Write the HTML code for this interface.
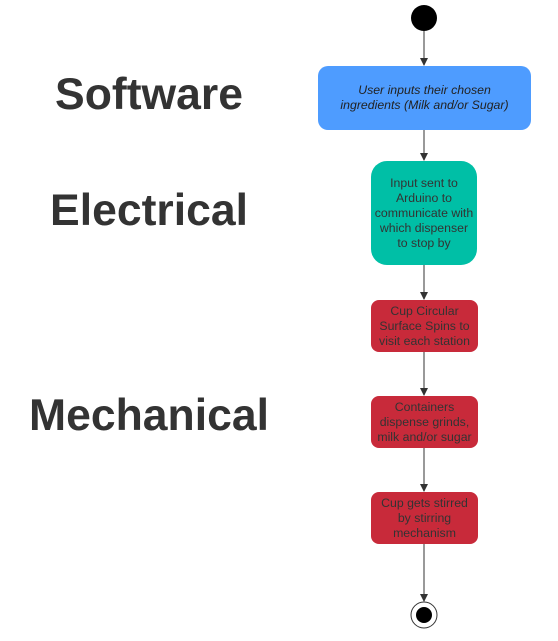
<!DOCTYPE html>
<html><head><style>
body{margin:0;width:558px;height:641px;background:#fff;position:relative;overflow:hidden;font-family:"Liberation Sans",sans-serif}
.l{position:absolute;font-weight:bold;font-size:44.5px;color:#333;text-align:center;width:300px;line-height:50px}
.b{position:absolute;display:flex;align-items:center;justify-content:center;text-align:center;font-size:12.3px;line-height:15px;color:#333;box-sizing:border-box}
</style></head><body>
<div class="l" style="left:-1px;top:70px">Software</div>
<div class="l" style="left:-1px;top:186px">Electrical</div>
<div class="l" style="left:-1px;top:391px">Mechanical</div>
<svg width="558" height="641" style="position:absolute;left:0;top:0">
<defs><marker id="a" markerWidth="8" markerHeight="8" refX="7" refY="4" orient="auto" markerUnits="userSpaceOnUse"><path d="M0,0L8,4L0,8z" fill="#333"/></marker></defs>
<circle cx="424" cy="18" r="13" fill="#000"/>
<g stroke="#555" stroke-width="1.2" marker-end="url(#a)">
<line x1="424" y1="31" x2="424" y2="65"/>
<line x1="424" y1="130" x2="424" y2="160"/>
<line x1="424" y1="265" x2="424" y2="299"/>
<line x1="424" y1="352" x2="424" y2="395"/>
<line x1="424" y1="448" x2="424" y2="491"/>
<line x1="424" y1="544" x2="424" y2="601"/>
</g>
<circle cx="424" cy="615" r="13" fill="#fff" stroke="#333" stroke-width="1"/>
<circle cx="424" cy="615" r="8" fill="#000"/>
</svg>
<div class="b" style="left:318px;top:66px;width:213px;height:64px;background:#4e9cff;border-radius:10px;font-style:italic;color:#222">User inputs their chosen<br>ingredients (Milk and/or Sugar)</div>
<div class="b" style="left:371px;top:161px;width:106px;height:104px;background:#00bfa6;border-radius:16px">Input sent to<br>Arduino to<br>communicate with<br>which dispenser<br>to stop by</div>
<div class="b" style="left:371px;top:300px;width:107px;height:52px;background:#c82a3a;border-radius:8px">Cup Circular<br>Surface Spins to<br>visit each station</div>
<div class="b" style="left:371px;top:396px;width:107px;height:52px;background:#c82a3a;border-radius:8px">Containers<br>dispense grinds,<br>milk and/or sugar</div>
<div class="b" style="left:371px;top:492px;width:107px;height:52px;background:#c82a3a;border-radius:8px">Cup gets stirred<br>by stirring<br>mechanism</div>
</body></html>
